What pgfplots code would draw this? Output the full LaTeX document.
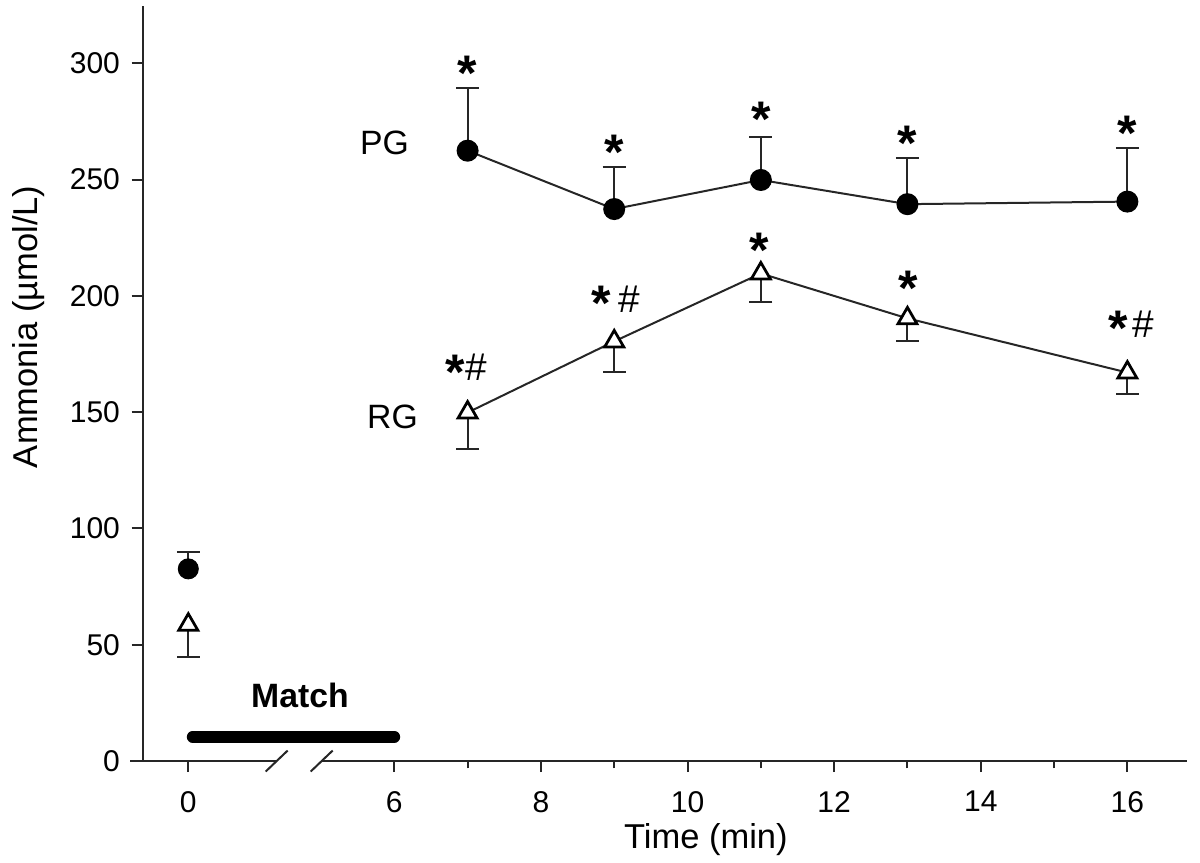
\documentclass[border=0pt]{standalone}
\usepackage{pgfplots}
\pgfplotsset{compat=1.18}
\usepackage{fontspec}
\setmainfont{Liberation Sans}
\newcommand{\st}{{\fontsize{20}{20}\bfseries\selectfont *}}
\tikzset{star/.style={anchor=base, yshift=-9pt, inner sep=0pt},
 hash/.style={anchor=base, yshift=-5.6pt, inner sep=0pt, font=\fontsize{15.5}{15.5}\selectfont}}
\begin{document}
\begin{tikzpicture}
\useasboundingbox (-57.2pt,-40.8pt) rectangle (422.8pt,304.4pt);
\begin{axis}[
 at={(0,0)}, anchor=south west,
 scale only axis, width=417.5pt, height=302pt,
 xmin=2.572, xmax=16.81, ymin=0, ymax=324.6,
 axis lines*=left,
 axis line style={line width=0.8pt, black!85},
 xtick={3.19,6,8,10,12,14,16},
 xticklabels={0,6,8,10,12,14,16},
 minor xtick={7,9,11,13,15},
 ytick={0,50,100,150,200,250,300},
 tick align=outside,
 major tick length=4.5pt, minor tick length=3pt,
 tick style={line width=0.8pt, black!85},
 tick label style={font=\fontsize{12}{14}\selectfont},
 xticklabel style={yshift=-4pt},
 yticklabel style={xshift=-1.2pt},
 /pgf/number format/assume math mode=true,
 clip=false,
 error bars/error mark=|,
]
% Match period
\addplot[black, line width=4.7pt, line cap=round] coordinates {(3.25,10.4) (6,10.4)};
% PG baseline
\addplot[only marks, mark=*, mark size=4pt, mark options={fill=black, draw=black},
 error bars/.cd, y dir=plus, y explicit,
 error mark options={mark size=4.6pt, line width=0.8pt, black!85},
 error bar style={line width=0.8pt, black!85}]
 coordinates {(3.19,82.6) +- (0,7.3)};
% RG baseline
\addplot[only marks, mark=triangle*, mark size=4.4pt, mark options={fill=white, draw=black, line width=1.1pt},
 error bars/.cd, y dir=minus, y explicit,
 error mark options={mark size=4.6pt, line width=0.8pt, black!85},
 error bar style={line width=0.8pt, black!85}]
 coordinates {(3.19,58.6) +- (0,13.8)};
% PG
\addplot[black!85, line width=0.8pt, mark=*, mark size=4pt, mark options={fill=black, draw=black},
 error bars/.cd, y dir=plus, y explicit,
 error mark options={mark size=4.6pt, line width=0.8pt, black!85},
 error bar style={line width=0.8pt, black!85}]
 coordinates {(7,262.4) +- (0,27.1) (9,237.3) +- (0,18) (11,249.8) +- (0,18.6) (13,239.4) +- (0,20) (16,240.5) +- (0,22.9)};
% RG
\addplot[black!85, line width=0.8pt, mark=triangle*, mark size=4.4pt, mark options={fill=white, draw=black, line width=1.1pt},
 error bars/.cd, y dir=minus, y explicit,
 error mark options={mark size=4.6pt, line width=0.8pt, black!85},
 error bar style={line width=0.8pt, black!85}]
 coordinates {(7,149.8) +- (0,15.8) (9,180.4) +- (0,13) (11,209.6) +- (0,12.1) (13,190.3) +- (0,9.6) (16,167) +- (0,9.2)};
% labels
\node[font=\fontsize{13.5}{15}\selectfont] at (axis cs:5.866,265.6) {PG};
\node[font=\fontsize{13.5}{15}\selectfont] at (axis cs:5.975,148) {RG};
\node[font=\fontsize{13.5}{15}\bfseries\selectfont] at (axis cs:4.713,28.4) {Match};
\node[anchor=base, font=\fontsize{13.8}{15}\selectfont] at (axis cs:10.25,-37.5) {Time (min)};
\node[anchor=base, rotate=90, font=\fontsize{13.8}{15}\selectfont] at (axis cs:1.139,186.7) {Ammonia (µmol/L)};
% significance marks
\node[star] at (axis cs:7,297.8) {\st};
\node[star] at (axis cs:9,264.1) {\st};
\node[star] at (axis cs:11,278.2) {\st};
\node[star] at (axis cs:13,267.7) {\st};
\node[star] at (axis cs:16,272) {\st};
\node[star] at (axis cs:6.827,169.5) {\st};
\node[star] at (axis cs:8.829,198.9) {\st};
\node[star] at (axis cs:10.98,221.9) {\st};
\node[star] at (axis cs:13.01,205.7) {\st};
\node[star] at (axis cs:15.873,188.2) {\st};
\node[hash] at (axis cs:7.124,169.5) {\#};
\node[hash] at (axis cs:9.206,198.9) {\#};
\node[hash] at (axis cs:16.218,188.2) {\#};
\coordinate (b1) at (axis cs:4.396,0);
\coordinate (b2) at (axis cs:5.010,0);
\coordinate (o) at (axis cs:2.572,0);
\end{axis}
\draw[white, line width=2pt] (b1) -- (b2);
\draw[black!85, line width=0.8pt] (b1) ++(-4.4pt,-4.2pt) -- ++(8.8pt,8.4pt);
\draw[black!85, line width=0.8pt] (b2) ++(-4.4pt,-4.2pt) -- ++(8.8pt,8.4pt);
\draw[black!85, line width=0.8pt] (o) -- ++(-5.2pt,0);
\end{tikzpicture}
\end{document}
